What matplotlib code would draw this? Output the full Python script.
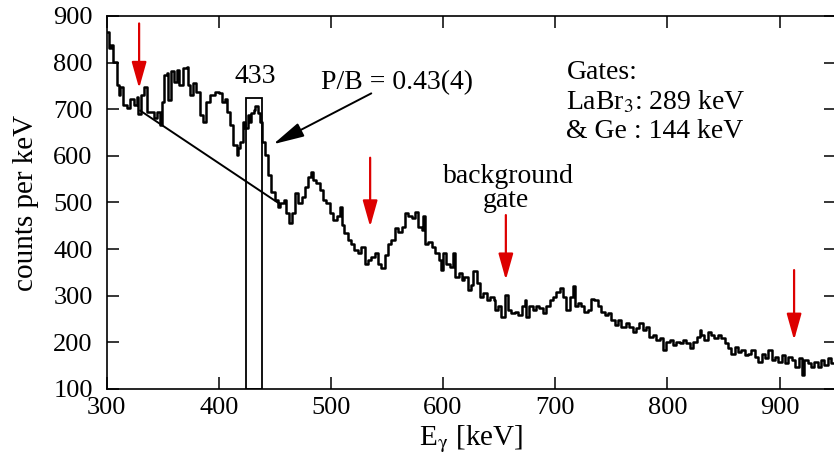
import numpy as np
import matplotlib
matplotlib.use('Agg')
import matplotlib.pyplot as plt
from matplotlib.patches import Rectangle

########
# DATA #
########

# gated gamma spectrum, bin start energies (keV) and counts per keV
energy = [300, 302, 304, 306, 309, 311, 312, 315, 318, 321,
          324, 327, 328, 331, 333, 336, 339, 342, 345, 348,
          349, 351, 354, 355, 357, 360, 363, 365, 368, 372,
          373, 374, 377, 380, 383, 386, 389, 392, 397, 400,
          403, 406, 407, 410, 413, 416, 417, 419, 422, 423,
          426, 428, 429, 431, 432, 435, 437, 439, 441, 444,
          447, 450, 453, 455, 458, 460, 463, 465, 468, 471,
          474, 477, 480, 482, 484, 487, 490, 493, 496, 499,
          502, 505, 508, 510, 512, 515, 518, 521, 524, 527,
          530, 533, 536, 539, 542, 545, 548, 551, 554, 557,
          560, 563, 566, 569, 572, 575, 578, 581, 582, 584,
          587, 590, 593, 596, 598, 600, 603, 606, 609, 611,
          614, 617, 619, 622, 625, 627, 630, 633, 636, 639,
          642, 645, 646, 649, 652, 655, 658, 661, 664, 667,
          670, 673, 674, 677, 680, 683, 686, 689, 692, 695,
          698, 701, 704, 707, 710, 713, 716, 718, 720, 723,
          726, 729, 732, 735, 738, 741, 744, 747, 750, 753,
          756, 759, 763, 766, 769, 772, 775, 778, 781, 784,
          787, 790, 793, 796, 799, 802, 805, 808, 811, 814,
          817, 820, 823, 826, 829, 830, 833, 836, 839, 842,
          845, 848, 851, 854, 857, 860, 863, 866, 869, 872,
          875, 878, 881, 884, 887, 890, 893, 896, 899, 902,
          905, 908, 911, 914, 917, 920, 922, 925, 928, 931,
          934, 937, 940, 943, 946, 950]

counts = [866, 831, 838, 802, 752, 731, 748, 709, 702, 723,
          709, 727, 690, 731, 748, 695, 695, 681, 695, 666,
          716, 773, 777, 720, 781, 759, 784, 752, 788, 791,
          752, 731, 756, 738, 688, 673, 716, 731, 738, 734,
          716, 723, 695, 666, 623, 602, 616, 630, 673, 659,
          688, 673, 691, 698, 706, 691, 673, 630, 602, 559,
          523, 505, 490, 498, 505, 477, 455, 477, 520, 498,
          512, 534, 555, 566, 548, 541, 527, 505, 498, 477,
          462, 470, 491, 452, 434, 420, 412, 398, 391, 405,
          369, 377, 384, 391, 369, 359, 387, 412, 420, 445,
          437, 448, 477, 470, 466, 480, 448, 441, 470, 412,
          416, 405, 391, 377, 355, 391, 369, 362, 391, 341,
          348, 334, 341, 312, 323, 352, 327, 298, 305, 291,
          298, 291, 269, 277, 255, 302, 269, 262, 266, 259,
          277, 291, 255, 277, 269, 277, 273, 262, 277, 291,
          298, 309, 316, 298, 269, 298, 320, 277, 284, 277,
          266, 269, 294, 291, 277, 266, 259, 262, 248, 237,
          248, 234, 241, 234, 223, 230, 241, 227, 234, 212,
          216, 205, 209, 184, 201, 205, 194, 201, 198, 205,
          198, 187, 201, 212, 226, 216, 205, 223, 216, 209,
          216, 209, 198, 187, 176, 191, 180, 184, 173, 176,
          184, 169, 158, 176, 166, 184, 162, 169, 158, 173,
          155, 169, 162, 148, 166, 130, 162, 155, 148, 158,
          148, 162, 151, 166, 155, 155]

# peak gate (keV) and its height, background line end points
gate_lo, gate_hi, gate_top = 424, 439, 725
bg_line_e = [330, 455]
bg_line_c = [697, 496]

# red arrows: energy, arrow top, arrow tip
arrow_e = [329, 535, 656, 913]
arrow_top = [884, 596, 473, 355]
arrow_tip = [745, 448, 334, 205]

xticks = [300, 400, 500, 600, 700, 800, 900]
yticks = [100, 200, 300, 400, 500, 600, 700, 800, 900]

############
# PLOTTING #
############

plt.rcParams['font.family'] = ['Liberation Serif', 'DejaVu Serif']
plt.rcParams['mathtext.fontset'] = 'stix'

fig = plt.figure(figsize=(8.34, 4.58), dpi=100)
ax = fig.add_axes([0.1278, 0.1507, 0.8741, 0.8144])

ax.step(energy, counts, where='post', color='black', lw=1.8)

ax.add_patch(Rectangle((gate_lo, 100), gate_hi - gate_lo, gate_top - 100,
                       fill=False, ec='black', lw=1.3))
ax.plot(bg_line_e, bg_line_c, color='black', lw=1.4)

for e, top, tip in zip(arrow_e, arrow_top, arrow_tip):
    ax.annotate('', xy=(e, tip), xytext=(e, top),
                arrowprops=dict(arrowstyle='-|>,head_length=1.6,head_width=0.45',
                                color='#dd0000', lw=1.6, shrinkA=0, shrinkB=0))

# P/B arrow
ax.annotate('', xy=(448.6, 625), xytext=(536, 734),
            arrowprops=dict(arrowstyle='-|>,head_length=1.9,head_width=0.45',
                            color='black', lw=1.4, shrinkA=0, shrinkB=0))

fs = 20
ax.text(433, 756, '433', fontsize=fs, ha='center', va='baseline')
ax.text(491.5, 743, 'P/B = 0.43(4)', fontsize=fs, ha='left', va='baseline')
ax.text(658, 541, 'background', fontsize=fs, ha='center', va='baseline')
ax.text(656, 491, 'gate', fontsize=fs, ha='center', va='baseline')
ax.text(710, 765, 'Gates:', fontsize=fs, ha='left', va='baseline')
ax.text(710, 700, r'LaBr$_3$: 289 keV', fontsize=fs, ha='left', va='baseline')
ax.text(710, 638, '& Ge : 144 keV', fontsize=fs, ha='left', va='baseline')

ax.set_xlim(300, 950)
ax.set_ylim(100, 900)
ax.set_xticks(xticks)
ax.set_yticks(yticks)
ax.tick_params(direction='in', length=8.5, width=1.1, labelsize=19,
               top=True, right=True)
ax.tick_params(axis='x', pad=6)
ax.tick_params(axis='y', pad=10)
for s in ax.spines.values():
    s.set_linewidth(1.2)

ax.set_xlabel(r'E$_\mathrm{\gamma}$ [keV]', fontsize=21, labelpad=3)
ax.set_ylabel('counts per keV', fontsize=21, labelpad=10)

fig.savefig('out.png', dpi=100)
